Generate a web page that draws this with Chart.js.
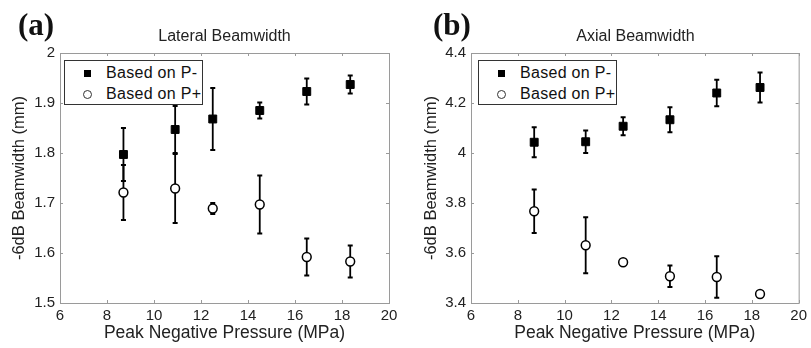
<!DOCTYPE html>
<html>
<head>
<meta charset="utf-8">
<script src="https://cdn.jsdelivr.net/npm/chart.js@4.4.1/dist/chart.umd.min.js"></script>
<style>
  body { margin: 0; background: #fff; }
  #wrap { position: relative; width: 811px; height: 348px; overflow: hidden; font-family: "Liberation Sans", Arial, sans-serif; }
  .panel { position: absolute; top: 0; height: 348px; }
  .tag { position: absolute; font: bold 31px "Liberation Serif", "Times New Roman", serif; line-height: 30px; color: #111; }
  .ttl { position: absolute; font-size: 16px; line-height: 18px; text-align: center; color: #222; }
  .lgd { position: absolute; box-sizing: border-box; width: 139px; height: 45px; border: 1px solid #333; background: #fff; }
  .row { position: absolute; left: 0; height: 20px; line-height: 20px; font-size: 16px; color: #111; }
  .row span { position: absolute; left: 41px; white-space: nowrap; letter-spacing: 0.3px; }
  .sq { position: absolute; left: 19px; top: 7px; width: 7px; height: 7px; background: #000; }
  .ci { position: absolute; left: 18px; top: 6px; width: 7px; height: 7px; border: 1px solid #333; border-radius: 50%; }
</style>
</head>
<body>
<div id="wrap">
  <div class="panel" style="left:0;width:405px"><canvas id="lat" width="405" height="348"></canvas></div>
  <div class="panel" style="left:405px;width:406px"><canvas id="ax" width="406" height="348"></canvas></div>

  <div class="tag" style="left:18px;top:10px">(a)</div>
  <div class="tag" style="left:433px;top:10px">(b)</div>
  <div class="ttl" style="left:60px;width:329px;top:27px">Lateral Beamwidth</div>
  <div class="ttl" style="left:471px;width:329px;top:27px">Axial Beamwidth</div>

  <div class="lgd" style="left:64px;top:60px">
    <div class="row" style="top:2px"><div class="sq"></div><span>Based on P-</span></div>
    <div class="row" style="top:23px"><div class="ci"></div><span>Based on P+</span></div>
  </div>
  <div class="lgd" style="left:478px;top:60px">
    <div class="row" style="top:2px"><div class="sq"></div><span>Based on P-</span></div>
    <div class="row" style="top:23px"><div class="ci"></div><span>Based on P+</span></div>
  </div>
</div>

<script>
// peak negative pressure (MPa)
const pressure = [8.7, 10.9, 12.5, 14.5, 16.5, 18.35];

// lateral -6dB beamwidth (mm)
const latNeg    = [1.797, 1.847, 1.868, 1.885, 1.923, 1.937];
const latNegErr = [0.053, 0.047, 0.062, 0.016, 0.026, 0.018];
const latPos    = [1.721, 1.729, 1.689, 1.697, 1.592, 1.583];
const latPosErr = [0.055, 0.069, 0.011, 0.058, 0.037, 0.032];

// axial -6dB beamwidth (mm)
const axNeg    = [4.043, 4.045, 4.107, 4.133, 4.240, 4.262];
const axNegErr = [0.060, 0.045, 0.036, 0.050, 0.053, 0.060];
const axPos    = [3.767, 3.631, 3.563, 3.507, 3.504, 3.436];
const axPosErr = [0.087, 0.112, 0.004, 0.043, 0.083, 0.006];

const xTicks = [6, 8, 10, 12, 14, 16, 18, 20];

const gray = '#9a9a9a';

// matlab-ish box with inward ticks, plus error bars under the markers
const boxAndErrors = {
  id: 'boxAndErrors',
  beforeDatasetsDraw(chart) {
    const ctx = chart.ctx;
    const a = chart.chartArea;
    const xs = chart.scales.x, ys = chart.scales.y;
    ctx.save();
    ctx.strokeStyle = gray;
    ctx.lineWidth = 1;
    ctx.strokeRect(a.left + 0.5, a.top + 0.5, a.right - a.left, a.bottom - a.top);
    ctx.beginPath();
    xs.ticks.forEach(t => {
      const px = Math.round(xs.getPixelForValue(t.value)) + 0.5;
      ctx.moveTo(px, a.bottom); ctx.lineTo(px, a.bottom - 3);
      ctx.moveTo(px, a.top); ctx.lineTo(px, a.top + 3);
    });
    ys.ticks.forEach(t => {
      const py = Math.round(ys.getPixelForValue(t.value)) + 0.5;
      ctx.moveTo(a.left, py); ctx.lineTo(a.left + 3, py);
      ctx.moveTo(a.right, py); ctx.lineTo(a.right - 3, py);
    });
    ctx.stroke();

    ctx.strokeStyle = '#000';
    ctx.lineWidth = 1.8;
    chart.data.datasets.forEach(ds => {
      ctx.beginPath();
      ds.data.forEach((p, i) => {
        const e = ds.errors[i];
        const px = xs.getPixelForValue(p.x);
        const y1 = ys.getPixelForValue(p.y + e);
        const y2 = ys.getPixelForValue(p.y - e);
        ctx.moveTo(px, y1); ctx.lineTo(px, y2);
        ctx.moveTo(px - 2.5, y1); ctx.lineTo(px + 2.5, y1);
        ctx.moveTo(px - 2.5, y2); ctx.lineTo(px + 2.5, y2);
      });
      ctx.stroke();
    });
    ctx.restore();
  }
};

function pts(vals) {
  return pressure.map((x, i) => ({ x: x, y: vals[i] }));
}

function makeChart(id, neg, negErr, pos, posErr, yMin, yMax, yStep, yWidth, padRight, yTitlePad) {
  return new Chart(document.getElementById(id), {
    type: 'scatter',
    data: {
      datasets: [
        {
          label: 'Based on P-',
          data: pts(neg), errors: negErr,
          pointStyle: 'rect', pointRadius: 5.6,
          backgroundColor: '#000', borderColor: '#000', borderWidth: 1
        },
        {
          label: 'Based on P+',
          data: pts(pos), errors: posErr,
          pointStyle: 'circle', pointRadius: 4.4,
          backgroundColor: '#fff', borderColor: '#000', borderWidth: 1.5
        }
      ]
    },
    options: {
      responsive: false,
      animation: false,
      events: [],
      clip: false,
      layout: { padding: { left: 0, right: padRight, top: 53, bottom: 0 } },
      plugins: { legend: { display: false }, tooltip: { enabled: false }, title: { display: false } },
      scales: {
        x: {
          type: 'linear', min: 6, max: 20,
          afterBuildTicks: s => { s.ticks = xTicks.map(v => ({ value: v })); },
          afterFit: s => { s.height = 45; },
          grid: { display: false, drawTicks: false },
          border: { display: false },
          ticks: { color: '#222', font: { size: 15, family: 'Liberation Sans' }, padding: 4, maxRotation: 0, autoSkip: false },
          title: { display: true, text: 'Peak Negative Pressure (MPa)', color: '#222',
                   font: { size: 17.5, family: 'Liberation Sans' }, padding: { top: 0, bottom: 4 } }
        },
        y: {
          type: 'linear', min: yMin, max: yMax,
          ticks: { stepSize: yStep, color: '#222', font: { size: 15, family: 'Liberation Sans' }, padding: 5, autoSkip: false,
                   callback: v => String(Number(v.toFixed(2))) },
          afterFit: s => { s.width = yWidth; },
          grid: { display: false, drawTicks: false },
          border: { display: false },
          title: { display: true, text: '-6dB Beamwidth (mm)', color: '#222',
                   font: { size: 16.5, family: 'Liberation Sans' }, padding: { top: yTitlePad, bottom: 0 } }
        }
      }
    },
    plugins: [boxAndErrors]
  });
}

makeChart('lat', latNeg, latNegErr, latPos, latPosErr, 1.5, 2.0, 0.1, 60, 16, 10);
makeChart('ax', axNeg, axNegErr, axPos, axPosErr, 3.4, 4.4, 0.2, 66, 11, 17);
</script>
</body>
</html>
